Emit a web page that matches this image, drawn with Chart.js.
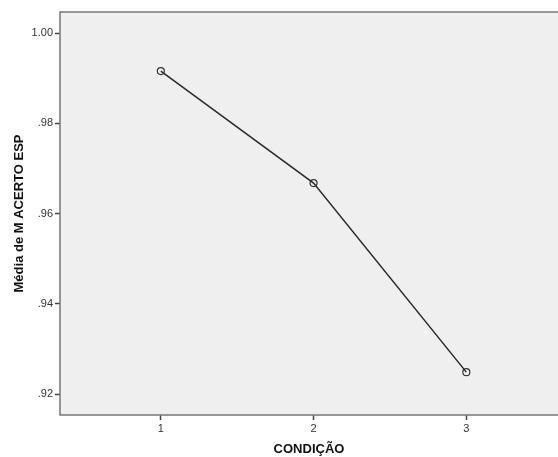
<!DOCTYPE html>
<html>
<head>
<meta charset="utf-8">
<script src="https://cdn.jsdelivr.net/npm/chart.js@4.4.1/dist/chart.umd.min.js"></script>
<style>
  body { margin: 0; background: #fff; }
  #wrap { width: 558px; height: 457px; }
</style>
</head>
<body>
<div id="wrap"><canvas id="chart" width="558" height="457"></canvas></div>
<script>
const condicao = [1, 2, 3];
const mediaAcerto = [0.9916, 0.9668, 0.9249];
const yTicks = [0.92, 0.94, 0.96, 0.98, 1.00];
const xTitle = "CONDIÇÃO";
const yTitle = "Média de M ACERTO ESP";

const font = "'Liberation Sans', Arial, sans-serif";

// gray plot background and frame, SPSS style
const plotFrame = {
  id: "plotFrame",
  beforeDraw(chart) {
    const { ctx, chartArea: a } = chart;
    ctx.save();
    ctx.fillStyle = "#efefef";
    ctx.fillRect(a.left, a.top, a.right - a.left, a.bottom - a.top);
    ctx.restore();
  },
  afterDatasetsDraw(chart) {
    const { ctx, chartArea: a } = chart;
    ctx.save();
    ctx.strokeStyle = "#777";
    ctx.lineWidth = 1.5;
    ctx.beginPath();
    ctx.moveTo(a.right, a.top);
    ctx.lineTo(a.left, a.top);
    ctx.lineTo(a.left, a.bottom);
    ctx.lineTo(a.right, a.bottom);
    ctx.stroke();
    ctx.restore();
  }
};

new Chart(document.getElementById("chart"), {
  type: "line",
  data: {
    datasets: [{
      data: condicao.map((c, i) => ({ x: c, y: mediaAcerto[i] })),
      borderColor: "#2a2a2a",
      borderWidth: 1.5,
      pointRadius: 3.5,
      pointBorderWidth: 1.2,
      pointBorderColor: "#333",
      pointBackgroundColor: "rgba(0,0,0,0)",
      tension: 0
    }]
  },
  options: {
    responsive: false,
    animation: false,
    layout: { autoPadding: false, padding: { top: 12, right: 0, bottom: 0, left: 0 } },
    plugins: { legend: { display: false }, tooltip: { enabled: false } },
    scales: {
      x: {
        type: "linear",
        min: 0.34,
        max: 3.6,
        afterBuildTicks: s => { s.ticks = condicao.map(v => ({ value: v })); },
        afterFit: s => { s.height = 42; },
        grid: { drawOnChartArea: false, tickLength: 5, tickColor: "#444", tickWidth: 1.5 },
        border: { display: false },
        ticks: { color: "#333", padding: 2, font: { family: font, size: 11 }, callback: v => String(v) },
        title: {
          display: true, text: xTitle, color: "#111",
          font: { family: font, size: 13, weight: "bold" },
          padding: { top: 0, bottom: 0 }
        }
      },
      y: {
        min: 0.9154,
        max: 1.0047,
        afterBuildTicks: s => { s.ticks = yTicks.map(v => ({ value: v })); },
        afterFit: s => { s.width = 60; },
        grid: { drawOnChartArea: false, tickLength: 5, tickColor: "#444", tickWidth: 1.5 },
        border: { display: false },
        ticks: {
          color: "#333", padding: 2, font: { family: font, size: 11 },
          callback: v => v.toFixed(2).replace(/^0/, "")
        },
        title: {
          display: true, text: yTitle, color: "#111",
          font: { family: font, size: 13, weight: "bold" },
          padding: { top: 12, bottom: 0 }
        }
      }
    }
  },
  plugins: [plotFrame]
});
</script>
</body>
</html>
